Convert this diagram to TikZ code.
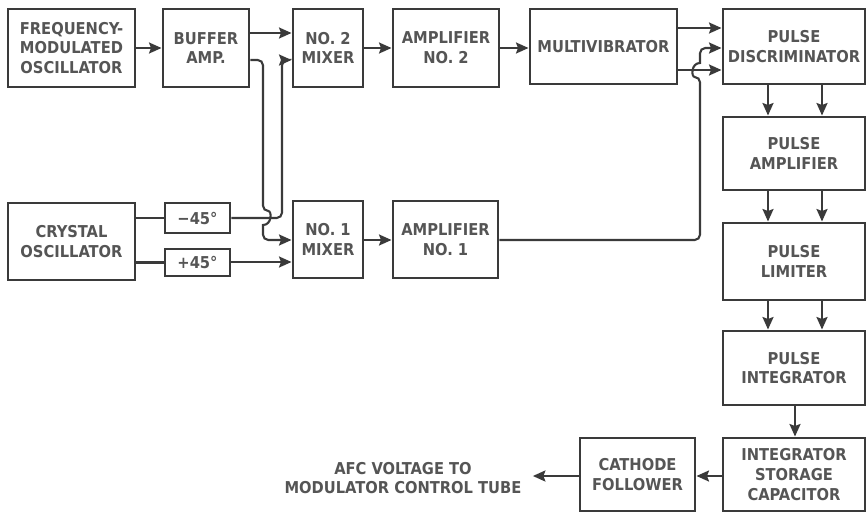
\documentclass[tikz,border=0pt]{standalone}
\usepackage{fontspec}
\setmainfont{DejaVu Sans Condensed}
\usetikzlibrary{arrows.meta}
\definecolor{ink}{HTML}{3A3A3A}
\definecolor{txt}{HTML}{555555}
\newcommand\bbox[6]{\node[box,minimum width={(#4-#2)*0.02cm},minimum height={(#5-#3)*0.02cm}] (#1) at ({(#2+#4)/2},{(#3+#5)/2}) {#6};}
\begin{document}
\begin{tikzpicture}[x=0.02cm,y=-0.02cm,
  lbl/.style={align=center,text=txt,font=\bfseries\fontsize{9.3}{11.3}\selectfont},
  box/.style={lbl,draw=ink,line width=1.7pt,inner sep=0pt},
  ln/.style={draw=ink,line width=1.2pt},
  arr/.style={ln,-{Stealth[length=0.25cm,width=0.22cm,inset=0.04cm]}}]
\useasboundingbox (0,0) rectangle (866,514);
% levels
\coordinate (y28) at (0,28);
\coordinate (y33) at (0,33);
\coordinate (y48) at (0,48);
\coordinate (y60) at (0,60);
\coordinate (y70) at (0,70);
\coordinate (y240) at (0,240);
\coordinate (y262) at (0,262);
\coordinate (y476) at (0,476);
\coordinate (x768) at (768,0);
\coordinate (x822) at (822,0);
\coordinate (x795) at (795,0);
% boxes
\bbox{fm}{8}{9}{135}{87}{FREQUENCY-\\MODULATED\\OSCILLATOR}
\bbox{buf}{163}{9}{249}{87}{BUFFER\\AMP.}
\bbox{mix2}{293}{9}{363}{87}{NO. 2\\MIXER}
\bbox{amp2}{393}{9}{499}{87}{AMPLIFIER\\NO. 2}
\bbox{mv}{530}{9}{677}{84}{MULTIVIBRATOR}
\bbox{disc}{723}{9}{865}{84}{PULSE\\DISCRIMINATOR}
\bbox{pamp}{723}{117}{865}{190}{PULSE\\AMPLIFIER}
\bbox{plim}{723}{223}{865}{300}{PULSE\\LIMITER}
\bbox{pint}{723}{331}{865}{405}{PULSE\\INTEGRATOR}
\bbox{stor}{723}{438}{865}{511}{INTEGRATOR\\STORAGE\\CAPACITOR}
\bbox{cf}{580}{438}{695}{511}{CATHODE\\FOLLOWER}
\bbox{xtal}{8}{203}{135}{280}{CRYSTAL\\OSCILLATOR}
\bbox{m45}{165}{203}{230}{233}{−45°}
\bbox{p45}{165}{249}{230}{276}{+45°}
\bbox{mix1}{293}{201}{363}{278}{NO. 1\\MIXER}
\bbox{amp1}{393}{201}{498}{278}{AMPLIFIER\\NO. 1}
\node[lbl] (afc) at (403,478) {AFC VOLTAGE TO\\MODULATOR CONTROL TUBE};
% connectors
\draw[arr] (fm) -- (buf);
\draw[arr] (buf.east |- y33) -- (mix2.west |- y33);
\draw[arr,rounded corners=3pt] (buf.east |- y60) -- (263,60) -- (263,211)
  [sharp corners] .. controls (272,211) and (272,225) .. (263,225)
  [rounded corners=3pt] -- (263,240) -- (mix1.west |- y240);
\draw[arr,rounded corners=3pt] (m45.east) -- (282,218) -- (282,60) -- (mix2.west |- y60);
\draw[ln] (xtal.east |- m45) -- (m45);
\draw[ln] (xtal.east |- p45) -- (p45);
\draw[arr] (p45.east |- y262) -- (mix1.west |- y262);
\draw[arr] (mix1.east |- y240) -- (amp1.west |- y240);
\draw[arr] (mix2.east |- y48) -- (amp2.west |- y48);
\draw[arr] (amp2.east |- y48) -- (mv.west |- y48);
\draw[arr] (mv.east |- y28) -- (disc.west |- y28);
\draw[arr] (mv.east |- y70) -- (disc.west |- y70);
\draw[arr,rounded corners=3pt] (amp1.east |- y240) -- (700,240) -- (700,77)
  [sharp corners] .. controls (691,77) and (691,63) .. (700,63)
  [rounded corners=3pt] -- (700,48) -- (disc.west |- y48);
\foreach \a/\b in {disc/pamp,pamp/plim,plim/pint}{
  \draw[arr] (\a.south -| x768) -- (\b.north -| x768);
  \draw[arr] (\a.south -| x822) -- (\b.north -| x822);
}
\draw[arr] (pint.south -| x795) -- (stor.north -| x795);
\draw[arr] (stor.west |- y476) -- (cf.east |- y476);
\draw[arr] (cf.west |- y476) -- ([xshift=3pt]afc.east |- y476);
\end{tikzpicture}
\end{document}
